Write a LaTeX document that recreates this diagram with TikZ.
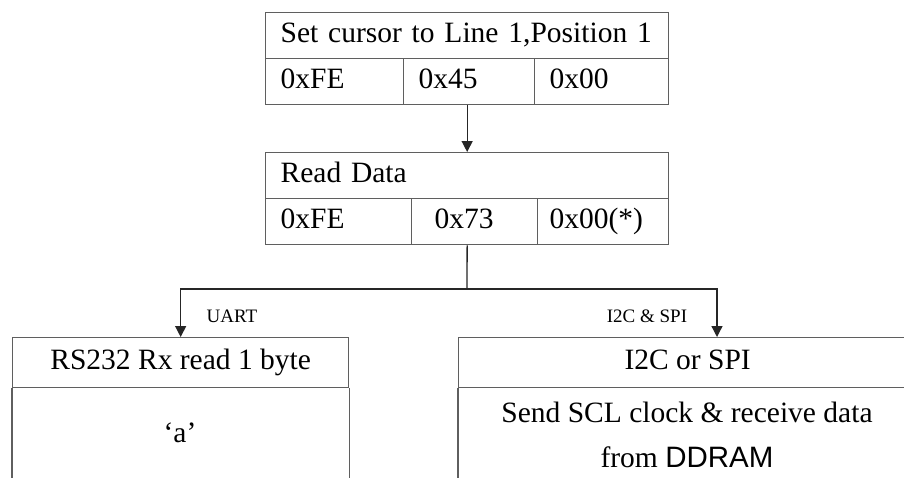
\documentclass[tikz,border=0pt]{standalone}
\usepackage{fontspec}
\setmainfont{Liberation Serif}
\newfontfamily\ddramfont{Liberation Sans}
\usetikzlibrary{arrows.meta}
\definecolor{boxGray}{RGB}{95,95,95}
\newcommand\cellFont{\fontsize{29.5}{34}\selectfont}
\newcommand\labelFont{\fontsize{19}{22}\selectfont}
\tikzset{
  cell/.style={draw=boxGray, line width=1.3pt, anchor=north west, minimum height=46pt,
               inner xsep=15pt, inner ysep=0pt, align=left, font=\cellFont,
               execute at begin node=\strut},
  head/.style={draw=boxGray, line width=1.3pt, anchor=north west, minimum height=50pt,
               inner sep=0pt, align=center, font=\cellFont, execute at begin node=\strut},
  wire/.style={draw=black!85, line width=1.3pt},
  arrow/.style={wire, -{Triangle[length=11pt,width=11pt]}},
}
\begin{document}
\begin{tikzpicture}[x=1pt,y=-1pt]

    \clip (0,0) rectangle (904,477);
    \fill[white] (0,0) rectangle (904,477);

    % set cursor command
    \node[cell, text width=373pt] (setCursor) at (265,12) {Set cursor to Line 1,Position 1};
    \node[cell, text width=108pt] (setFE) at (265,58) {0xFE};
    \node[cell, text width=101pt] (set45) at (403,58) {0x45};
    \node[cell, text width=104pt] (set00) at (534,58) {0x00};

    % read data command
    \node[cell, text width=373pt] (readData) at (265,152) {Read Data};
    \node[cell, text width=116pt] (readFE) at (265,198) {0xFE};
    \node[cell, text width=96pt] (read73) at (411,198) {\hspace*{8pt}0x73};
    \node[cell, text width=107pt, inner xsep=12pt] (read00) at (537,198) {0x00(*)};

    % uart branch
    \node[head, minimum width=336pt] (uartHead) at (12,337) {RS232 Rx read 1 byte};
    \draw[draw=boxGray, line width=1.3pt] (uartHead.south west) -- ++(0,100);
    \draw[draw=boxGray, line width=1.3pt] (uartHead.south east) -- ++(0,100);
    \node[font=\cellFont] (uartByte) at (180,433) {`a'};

    % i2c / spi branch
    \node[head, minimum width=458pt] (spiHead) at (458,337) {I2C or SPI};
    \draw[draw=boxGray, line width=1.3pt] (spiHead.south west) -- ++(0,100);
    \node[font=\fontsize{29.5}{45}\selectfont, align=center] (spiData) at (687,435)
        {Send SCL clock \& receive data\\from {\ddramfont DDRAM}};

    % connectors
    \coordinate (split) at (467,289);
    \coordinate (spiIn) at (717,337);
    \draw[arrow] (set45.south -| setCursor.south) -- (readData.north);
    \draw[wire] (read73.south -| readData.south) -- (split);
    \draw[arrow] (split) -| (uartHead.north);
    \draw[arrow] (split) -| (spiIn);

    \node[font=\labelFont] (uartLabel) at (232,316) {UART};
    \node[font=\labelFont] (spiLabel) at (647,316) {I2C \& SPI};

\end{tikzpicture}
\end{document}
